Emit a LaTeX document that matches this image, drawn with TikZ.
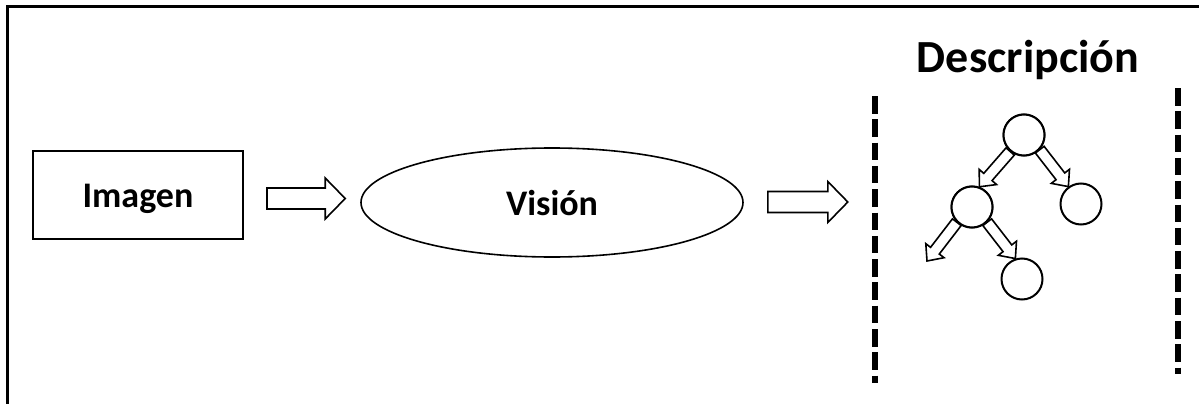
\documentclass[tikz,border=0pt]{standalone}
\usepackage{fontspec}
\setmainfont{Carlito}
\usetikzlibrary{calc,shapes.geometric}
\tikzset{
  box/.style={draw, line width=2pt, rectangle, minimum width=210pt, minimum height=88pt, inner sep=0pt,
    font=\bfseries\fontsize{36}{40}\selectfont, text height=30pt, text depth=6pt},
  oval/.style={draw, line width=1.6pt, ellipse, minimum width=382pt, minimum height=109pt, inner sep=0pt,
    font=\bfseries\fontsize{36}{40}\selectfont, text height=31pt, text depth=6pt},
  tnode/.style={draw, line width=2pt, circle, minimum size=41pt, inner sep=0pt, fill=white},
  title/.style={font=\bfseries\fontsize{46}{50}\selectfont, anchor=base, inner sep=0pt},
  barrow/.style={draw, line width=1.6pt, fill=white, line join=miter},
  divider/.style={line width=6pt, dash pattern=on 17.5pt off 5.8pt},
  frame/.style={line width=3pt}
}
\newcommand\blockarr[5]{%
  \coordinate (ba-c) at ($(#2)!#5!(#1)$);
  \draw[barrow] ($(#1)!#3!90:(#2)$) -- ($(ba-c)!#3!90:(#2)$) -- ($(ba-c)!#4!90:(#2)$) -- (#2)
    -- ($(ba-c)!#4!-90:(#2)$) -- ($(ba-c)!#3!-90:(#2)$) -- ($(#1)!#3!-90:(#2)$) -- cycle;
}
\begin{document}
\begin{tikzpicture}[x=1pt,y=-1pt]
\useasboundingbox (0,0) rectangle (1199,404);
\draw[frame] (1199,7) -- (7,7) -- (7,404);

\node[box] (img) at (138,195) {Imagen};
\node[oval] (vis) at (552,202.5) {Visión};
\node[title] (desc) at (1028,73) {Descripción};

\coordinate (a1s) at ($(img.east)+(23,3.5)$);
\coordinate (a1e) at ($(vis.west)+(-15,-4)$);
\blockarr{a1s}{a1e}{10.5pt}{20.5pt}{20pt}
\coordinate (a2s) at ($(vis.east)+(24,-0.5)$);
\coordinate (a2e) at ($(vis.east)+(104,-0.5)$);
\blockarr{a2s}{a2e}{10.5pt}{20.5pt}{20pt}

\draw[divider] (875,96) -- (875,383);
\draw[divider] (1178,88) -- (1178,374);

\node[tnode] (root) at (1024,135) {};
\node[tnode] (lc) at (972,207) {};
\node[tnode] (rc) at (1081,204) {};
\node[tnode] (gc) at (1022,279) {};
\coordinate (ll) at (927,261);

\blockarr{root.230}{lc.70}{5.5pt}{11.5pt}{13pt}
\blockarr{root.317}{rc.126}{5.5pt}{11.5pt}{13pt}
\blockarr{lc.225}{ll}{5.5pt}{11.5pt}{13pt}
\blockarr{lc.315}{gc.108}{5.5pt}{11.5pt}{13pt}
\node[tnode] at (root) {};
\node[tnode] at (lc) {};
\end{tikzpicture}
\end{document}
